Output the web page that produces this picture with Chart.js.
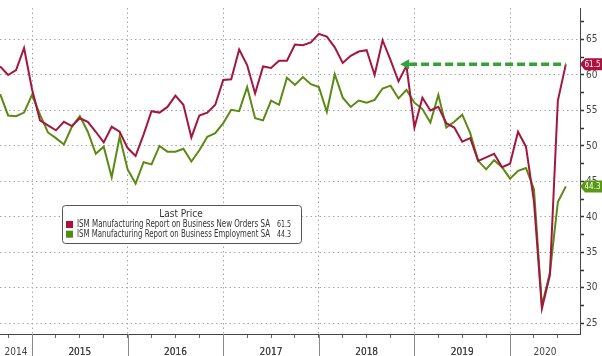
<!DOCTYPE html>
<html><head><meta charset="utf-8">
<script src="https://cdn.jsdelivr.net/npm/chart.js@4.4.1/dist/chart.umd.min.js"></script>
<style>html,body{margin:0;padding:0;background:#fff;overflow:hidden}#wrap{position:relative;width:602px;height:356px}canvas{display:block}</style>
</head><body><div id="wrap"><canvas id="c" width="602" height="356" style="width:602px;height:356px"></canvas></div>
<script>
// Monthly observations, Aug 2014 .. Jul 2020
const months = [
 '2014-08','2014-09','2014-10','2014-11','2014-12',
 '2015-01','2015-02','2015-03','2015-04','2015-05','2015-06','2015-07','2015-08','2015-09','2015-10','2015-11','2015-12',
 '2016-01','2016-02','2016-03','2016-04','2016-05','2016-06','2016-07','2016-08','2016-09','2016-10','2016-11','2016-12',
 '2017-01','2017-02','2017-03','2017-04','2017-05','2017-06','2017-07','2017-08','2017-09','2017-10','2017-11','2017-12',
 '2018-01','2018-02','2018-03','2018-04','2018-05','2018-06','2018-07','2018-08','2018-09','2018-10','2018-11','2018-12',
 '2019-01','2019-02','2019-03','2019-04','2019-05','2019-06','2019-07','2019-08','2019-09','2019-10','2019-11','2019-12',
 '2020-01','2020-02','2020-03','2020-04','2020-05','2020-06','2020-07'
];
const newOrders = [
 61.2,60.0,60.7,63.8,58.0,
 53.6,52.9,52.2,53.4,52.8,53.9,53.4,52.0,50.5,52.7,52.0,49.7,
 48.6,51.6,54.9,54.7,55.5,57.1,55.8,51.2,54.3,54.7,55.8,59.3,
 59.4,63.6,61.4,57.4,61.2,61.0,62.0,62.0,64.3,64.2,64.6,65.8,
 65.4,63.9,61.7,62.7,63.3,63.5,60.0,64.9,62.1,59.1,61.3,52.6,
 56.8,55.0,55.5,53.2,52.6,50.6,51.1,47.9,48.4,48.9,47.0,47.5,
 52.0,49.9,42.2,27.1,31.8,56.4,61.5
];
const employment = [
 57.3,54.3,54.2,54.7,57.2,
 54.4,51.9,51.1,50.2,52.7,54.2,52.0,48.9,49.9,45.6,51.3,46.7,
 44.7,47.7,47.4,50.0,49.2,49.2,49.6,47.8,49.4,51.3,51.8,53.2,
 55.1,54.9,58.3,53.9,53.6,56.4,55.8,59.6,58.6,59.7,58.7,58.3,
 54.8,60.1,56.8,55.5,56.4,56.1,56.5,58.1,58.5,56.7,57.9,56.1,
 55.2,53.3,57.2,52.6,53.4,54.4,51.8,47.9,46.7,48.0,47.0,45.4,
 46.5,46.9,43.9,27.5,32.1,42.1,44.3
];
const seriesNames = [
 'ISM Manufacturing Report on Business New Orders SA',
 'ISM Manufacturing Report on Business Employment SA'
];
const years = ['2014','2015','2016','2017','2018','2019','2020'];
const yTickValues = [25,27.5,30,32.5,35,37.5,40,42.5,45,47.5,50,52.5,55,57.5,60,62.5,65,67.5];
const arrowFromMonth = '2018-10';

// month -> index (Dec 2014 = 0), observations plotted at month end
const mIdx = s => { const [y,m] = s.split('-').map(Number); return (y-2015)*12 + m; };
const X_MIN = -4.02, X_MAX = 68.78;
const yearStart = y => (Number(y)-2015)*12;
const yearLabelPos = years.map(y => {
  const a = Math.max(yearStart(y), X_MIN), b = Math.min(yearStart(y)+12, X_MAX);
  return (a+b)/2;
});
const quarterTicks = [];
for (let k = -3; k <= 66; k += 3) quarterTicks.push(k);

const RED = '#a3173f', GREEN = '#5a8a14';
const FONT = "'Liberation Sans Narrow','DejaVu Sans Condensed','Liberation Sans',sans-serif";

const extras = {
  id: 'extras',
  afterDraw(chart) {
    const {ctx} = chart;
    const xs = chart.scales.x, ys = chart.scales.y;
    ctx.save();
    // year separators below the axis
    ctx.strokeStyle = '#8a8a8a'; ctx.lineWidth = 1;
    years.slice(1).forEach(y => {
      const x = Math.round(xs.getPixelForValue(yearStart(y))) + 0.5;
      ctx.beginPath(); ctx.moveTo(x, xs.top); ctx.lineTo(x, chart.height); ctx.stroke();
    });
    // dashed arrow at last new-orders value
    const lastNO = newOrders[newOrders.length-1], lastEmp = employment[employment.length-1];
    const yA = ys.getPixelForValue(lastNO);
    const x1 = xs.getPixelForValue(mIdx(arrowFromMonth) + 0.2);
    const x2 = xs.getPixelForValue(mIdx(months[months.length-1]));
    ctx.strokeStyle = '#36a03a'; ctx.fillStyle = '#36a03a';
    ctx.lineWidth = 3.5; ctx.setLineDash([8,4]);
    ctx.beginPath(); ctx.moveTo(x1+9, yA); ctx.lineTo(x2, yA); ctx.stroke();
    ctx.setLineDash([]);
    ctx.beginPath(); ctx.moveTo(x1, yA); ctx.lineTo(x1+9, yA-5); ctx.lineTo(x1+9, yA+5); ctx.closePath(); ctx.fill();
    // value tags on the right axis
    const tag = (v, col) => {
      const yc = ys.getPixelForValue(v), xl = ys.left;
      ctx.fillStyle = col;
      ctx.beginPath();
      ctx.moveTo(xl, yc); ctx.lineTo(xl+5, yc-6); ctx.lineTo(chart.width, yc-6);
      ctx.lineTo(chart.width, yc+6); ctx.lineTo(xl+5, yc+6); ctx.closePath(); ctx.fill();
      ctx.fillStyle = '#fff'; ctx.font = '9.5px ' + FONT;
      ctx.textAlign = 'center'; ctx.textBaseline = 'middle';
      ctx.fillText(v.toFixed(1), xl + 12.5, yc + 0.5, 16);
    };
    tag(lastNO, '#b01040');
    tag(lastEmp, '#5a9a12');
    // legend box
    const L = 62, T = 205, W = 239, H = 38;
    ctx.fillStyle = '#fff'; ctx.strokeStyle = '#555'; ctx.lineWidth = 1;
    ctx.beginPath(); ctx.roundRect(L+0.5, T+0.5, W, H, 3); ctx.fill(); ctx.stroke();
    ctx.fillStyle = '#333'; ctx.font = '10px ' + FONT; ctx.textBaseline = 'middle';
    ctx.textAlign = 'center'; ctx.fillText('Last Price', 181, 214.5);
    const rows = [[seriesNames[0], lastNO, '#b0103c'], [seriesNames[1], lastEmp, '#4f8c10']];
    rows.forEach((r, i) => {
      const yy = 224.5 + i*9.7;
      ctx.fillStyle = r[2]; ctx.fillRect(66, yy-3.5, 7, 7);
      ctx.fillStyle = '#333'; ctx.textAlign = 'left'; ctx.font = '10px ' + FONT;
      ctx.fillText(r[0], 77, yy, 193);
      ctx.textAlign = 'right'; ctx.font = '9.5px ' + FONT;
      ctx.fillText(r[1].toFixed(1), 291, yy, 14);
    });
    ctx.restore();
  }
};

new Chart(document.getElementById('c'), {
  type: 'line',
  data: {
    datasets: [
      { label: seriesNames[0], data: months.map((m,i) => ({x: mIdx(m), y: newOrders[i]})),
        borderColor: RED, borderWidth: 2, pointRadius: 0, tension: 0, fill: false },
      { label: seriesNames[1], data: months.map((m,i) => ({x: mIdx(m), y: employment[i]})),
        borderColor: GREEN, borderWidth: 2, pointRadius: 0, tension: 0, fill: false }
    ]
  },
  options: {
    responsive: false, animation: false, devicePixelRatio: 1,
    layout: { padding: 0 },
    plugins: { legend: { display: false }, tooltip: { enabled: false } },
    scales: {
      x: {
        type: 'linear', min: X_MIN, max: X_MAX,
        afterBuildTicks: s => { s.ticks = quarterTicks.concat(yearLabelPos).sort((a,b)=>a-b).map(v => ({value: v})); },
        afterFit: s => { s.height = 22; },
        ticks: {
          autoSkip: false, maxRotation: 0, padding: 8, color: '#444',
          font: { family: FONT, size: 10 },
          callback: v => { const i = yearLabelPos.indexOf(v); return i >= 0 ? years[i] : ''; }
        },
        grid: {
          color: c => (c.tick && Number.isInteger(c.tick.value) && c.tick.value % 12 === 0) ? '#a8a8a8' : 'rgba(0,0,0,0)',
          lineWidth: 1,
          tickColor: c => (c.tick && yearLabelPos.indexOf(c.tick.value) >= 0 && c.tick.value % 3 !== 0) ? 'rgba(0,0,0,0)' : '#666',
          tickLength: 4, tickBorderDash: []
        },
        border: { display: true, color: '#444', width: 1, dash: [1.5,3] }
      },
      y: {
        type: 'linear', position: 'right', min: 23.5, max: 69.44,
        afterBuildTicks: s => { s.ticks = yTickValues.map(v => ({value: v})); },
        afterFit: s => { s.width = 22; },
        ticks: {
          autoSkip: false, padding: 2, color: '#444',
          font: { family: FONT, size: 10 },
          callback: v => (v % 5 === 0 ? String(v) : '')
        },
        grid: {
          color: c => (c.tick && c.tick.value % 5 === 0) ? '#a8a8a8' : 'rgba(0,0,0,0)',
          tickColor: '#333', tickLength: 4, tickWidth: 1.5, tickBorderDash: []
        },
        border: { display: true, color: '#444', width: 1, dash: [1.5,3] }
      }
    }
  },
  plugins: [extras]
});
</script></body></html>
